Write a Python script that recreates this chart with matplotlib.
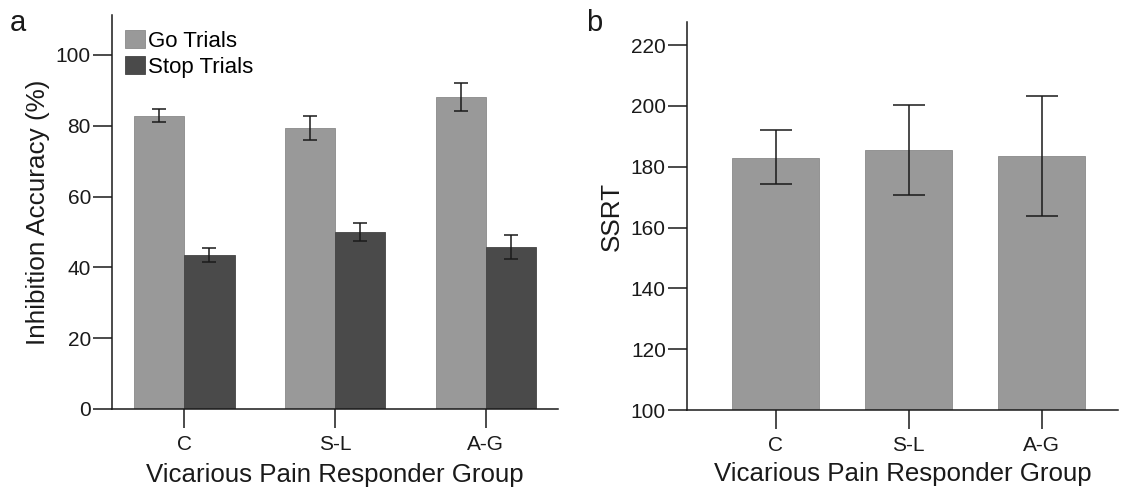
import matplotlib
matplotlib.use("Agg")
import matplotlib.pyplot as plt
import numpy as np

plt.rcParams['font.family'] = ['Liberation Sans', 'DejaVu Sans']

groups = ['C', 'S-L', 'A-G']

# panel a: inhibition accuracy (%)
go_mean = [82.8, 79.4, 88.1]
go_lo = [81.1, 76.1, 84.3]
go_hi = [84.7, 82.7, 92.0]
stop_mean = [43.4, 49.9, 45.8]
stop_lo = [41.6, 47.4, 42.5]
stop_hi = [45.5, 52.6, 49.1]

# panel b: SSRT
ssrt_mean = [183.0, 185.4, 183.4]
ssrt_lo = [174.3, 170.7, 163.8]
ssrt_hi = [192.0, 200.2, 203.2]

go_color = '#999999'
stop_color = '#4a4a4a'
ink = '#1a1a1a'


def style_axes(ax):
    for s in ['top', 'right']:
        ax.spines[s].set_visible(False)
    for s in ['left', 'bottom']:
        ax.spines[s].set_color(ink)
        ax.spines[s].set_linewidth(1.1)
    ax.tick_params(axis='both', length=14, width=1.1, color=ink,
                   labelsize=15, labelcolor=ink)
    ax.tick_params(axis='y', pad=1)
    ax.tick_params(axis='x', pad=5)


def err(mean, lo, hi):
    m = np.array(mean)
    return [m - np.array(lo), np.array(hi) - m]


fig = plt.figure(figsize=(11.32, 4.88), dpi=100)

# ---- panel a
ax1 = fig.add_axes([0.0987, 0.1619, 0.3943, 0.8074])
x = np.arange(len(groups))
w = 1.0 / 3
ax1.bar(x - w / 2, go_mean, w, color=go_color, edgecolor='#8a8a8a',
        linewidth=0.6, label='Go Trials')
ax1.bar(x + w / 2, stop_mean, w, color=stop_color, edgecolor='#444444',
        linewidth=0.6, label='Stop Trials')
ax1.errorbar(x - w / 2, go_mean, yerr=err(go_mean, go_lo, go_hi), fmt='none',
             ecolor=ink, elinewidth=1.1, capsize=4.7, capthick=1.1)
ax1.errorbar(x + w / 2, stop_mean, yerr=err(stop_mean, stop_lo, stop_hi),
             fmt='none', ecolor=ink, elinewidth=1.1, capsize=4.7, capthick=1.1)
ax1.set_xlim(-0.482, 2.48)
ax1.set_ylim(0, 111.3)
ax1.set_yticks([0, 20, 40, 60, 80, 100])
ax1.set_xticks(x)
ax1.set_xticklabels(groups)
style_axes(ax1)
ax1.set_ylabel('Inhibition Accuracy (%)', fontsize=18.8, color=ink)
ax1.set_xlabel('Vicarious Pain Responder Group', fontsize=18.6, color=ink)
ax1.yaxis.set_label_coords(-0.138, 0.5)
ax1.xaxis.set_label_coords(0.5, -0.137)
ax1.xaxis.label.set_va('top')
leg = ax1.legend(loc='upper left', bbox_to_anchor=(125 / 1132, 1 - 30 / 488),
                 bbox_transform=fig.transFigure, frameon=False, fontsize=16,
                 borderaxespad=0, borderpad=0, handlelength=0.9,
                 handleheight=0.9, handletextpad=0.15, labelspacing=0.18)
fig.text(10 / 1132, 1 - 31 / 488, 'a', fontsize=21, color=ink)

# ---- panel b
ax2 = fig.add_axes([0.6066, 0.1598, 0.3810, 0.7951])
ax2.bar(x, [m - 100 for m in ssrt_mean], 0.654, bottom=100, color=go_color,
        edgecolor='#8a8a8a', linewidth=0.6)
ax2.errorbar(x, ssrt_mean, yerr=err(ssrt_mean, ssrt_lo, ssrt_hi), fmt='none',
             ecolor=ink, elinewidth=1.1, capsize=11.4, capthick=1.1)
ax2.set_xlim(-0.669, 2.574)
ax2.set_ylim(100, 227.6)
ax2.set_yticks([100, 120, 140, 160, 180, 200, 220])
ax2.set_xticks(x)
ax2.set_xticklabels(groups)
style_axes(ax2)
ax2.set_ylabel('SSRT', fontsize=18.8, color=ink)
ax2.set_xlabel('Vicarious Pain Responder Group', fontsize=18.6, color=ink)
ax2.yaxis.set_label_coords(-0.146, 0.5)
ax2.xaxis.set_label_coords(0.5, -0.134)
ax2.xaxis.label.set_va('top')
fig.text(586 / 1132, 1 - 31 / 488, 'b', fontsize=21, color=ink)

fig.savefig('out.png', dpi=100)
